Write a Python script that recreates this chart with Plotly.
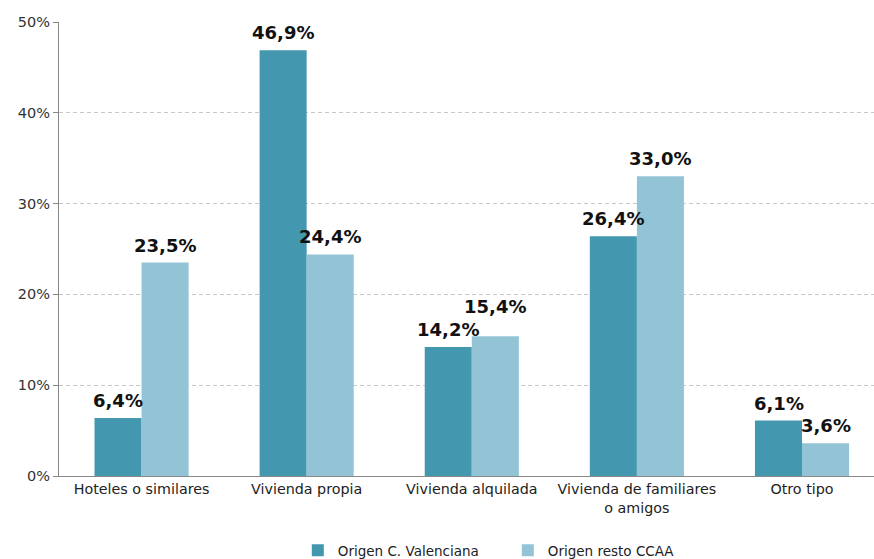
import plotly.graph_objects as go

categories = ["Hoteles o similares", "Vivienda propia", "Vivienda alquilada",
              "Vivienda de familiares<br>o amigos", "Otro tipo"]
valenciana = [6.4, 46.9, 14.2, 26.4, 6.1]
resto = [23.5, 24.4, 15.4, 33.0, 3.6]
y_ticks = [0, 10, 20, 30, 40, 50]
y_tick_labels = ["0%", "10%", "20%", "30%", "40%", "50%"]

def fmt(v):
    return f"{v:.1f}%".replace(".", ",")

fig = go.Figure()
fig.add_trace(go.Bar(
    x=categories, y=valenciana, name="Origen C. Valenciana",
    marker=dict(color="#4398B0", line=dict(width=0)),
))
fig.add_trace(go.Bar(
    x=categories, y=resto, name="Origen resto CCAA",
    marker=dict(color="#93C4D6", line=dict(width=0)),
))

# value labels above the bars (offset to each bar of the group)
for cat, v_a, v_b in zip(categories, valenciana, resto):
    for v, shift, other in ((v_a, -23.5, None), (v_b, 23.5, v_a)):
        extra = 12 if (other is not None and 0 < v - other < 2) else 0
        fig.add_annotation(
            x=cat, y=v, xref="x", yref="y", xshift=shift, yshift=5 + extra,
            yanchor="bottom", xanchor="center", showarrow=False,
            text=f"<b>{fmt(v)}</b>",
            font=dict(family="DejaVu Sans", size=18, color="#111111"),
        )

fig.update_layout(
    width=874, height=559,
    margin=dict(l=59, r=0, t=22, b=83, autoexpand=False),
    paper_bgcolor="white", plot_bgcolor="white",
    barmode="group", bargap=0.43, bargroupgap=0,
    font=dict(family="DejaVu Sans", size=13, color="#333333"),
    showlegend=True,
    legend=dict(orientation="h", x=0.293, xanchor="left", y=-0.13, yanchor="top",
                font=dict(size=13.5, color="#222222"), itemwidth=30,
                entrywidth=165, entrywidthmode="pixels"),
)
fig.update_xaxes(
    range=[-0.5, 4.436], automargin=False,
    showline=True, linecolor="#888888", linewidth=1,
    ticks="", showgrid=False, tickfont=dict(size=14.3, color="#222222"),
)
fig.update_yaxes(
    range=[0, 50], tickvals=y_ticks, ticktext=y_tick_labels, automargin=False,
    showline=True, linecolor="#888888", linewidth=1,
    ticks="outside", ticklen=5, tickcolor="#888888",
    showgrid=True, gridcolor="#C8C8C8", griddash="4px,3px", gridwidth=1,
    tickfont=dict(size=14.5, color="#333333"), zeroline=False,
)

fig.write_html("out.html", config={"displayModeBar": False},
               post_script="document.body.style.margin='0px';document.body.style.overflow='hidden';")
